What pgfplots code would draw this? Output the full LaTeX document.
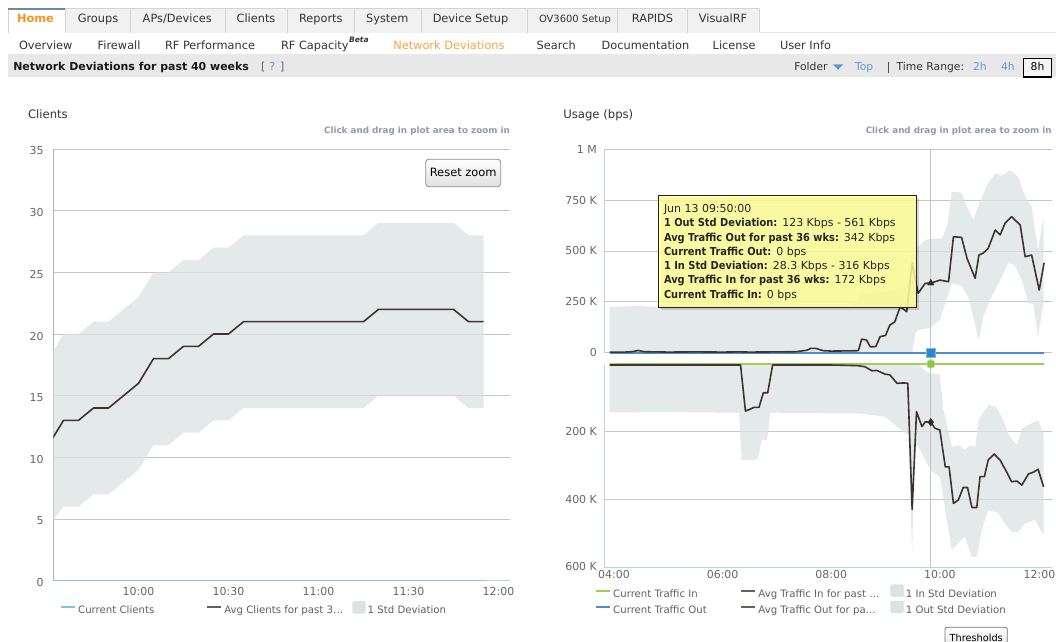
\documentclass[border=0pt]{standalone}
\usepackage{fontspec}
\setmainfont{DejaVu Sans}
\newfontfamily\condf[FakeStretch=0.9]{DejaVu Sans}
\usepackage{pgfplots}
\pgfplotsset{compat=1.18}
\usepgfplotslibrary{fillbetween}
\usepackage{pgfplotstable}

\definecolor{tabtext}{HTML}{333333}
\definecolor{homeor}{HTML}{F7941D}
\definecolor{navor}{HTML}{F5A445}
\definecolor{linkblue}{HTML}{5B9BD5}
\definecolor{barbg}{HTML}{E8E8E8}
\definecolor{tabbg}{HTML}{F1F1F1}
\definecolor{tabline}{HTML}{D4D4D4}
\definecolor{hometop}{HTML}{6E88AD}
\definecolor{bandc}{HTML}{DBE2E2}
\definecolor{gridc}{HTML}{C6C6C6}
\definecolor{tickc}{HTML}{666666}
\definecolor{legc}{HTML}{606060}
\definecolor{titlec}{HTML}{333333}
\definecolor{zoomc}{HTML}{8D9AAD}
\definecolor{avgc}{HTML}{3D3430}
\definecolor{avgleg}{HTML}{6A5E58}
\definecolor{curclient}{HTML}{7FC6EC}
\definecolor{curout}{HTML}{4A8FCB}
\definecolor{curin}{HTML}{A3CE55}
\definecolor{sqc}{HTML}{2C87CC}
\definecolor{circc}{HTML}{8DC63F}
\definecolor{axisc}{HTML}{C0D0E0}
\definecolor{leftaxc}{HTML}{B4B4B4}
\definecolor{crossc}{HTML}{C4C4C4}
\definecolor{tipfill}{HTML}{FFFF99}
\definecolor{sepc}{HTML}{5A4A4A}

\pgfplotstableread{
t avg up lo
30 11 18 4.4
35 13 20 6
40 13 20 6
45 14 21 7
50 14 21 7
55 15 22 8
60 16 23 9
65 18 25 11
70 18 25 11
75 19 26 12
80 19 26 12
85 20 27 13
90 20 27 13
95 21 28 14
100 21 28 14
105 21 28 14
110 21 28 14
115 21 28 14
120 21 28 14
125 21 28 14
130 21 28 14
135 21 28 14
140 22 29 15
145 22 29 15
150 22 29 15
155 22 29 15
160 22 29 15
165 22 29 15
170 21 28 14
175 21 28 14
}\clientsdata

\pgfplotstableread{
x y
3.917 3
4.2 3
4.33 5
4.45 11
4.55 5
5.0 3
5.5 4
6.0 3
6.3 4
6.5 3
7.0 4
7.35 5
7.55 12
7.62 21
7.72 21
7.85 10
8.0 8
8.3 9
8.5 10
8.56 67
8.65 62
8.72 29
8.82 30
8.9 79
9.0 85
9.08 136
9.17 152
9.27 226
9.39 202
9.49 440
9.6 292
9.73 341
9.8333 342
10.0 357
10.16 349
10.25 570
10.4 567
10.5 464
10.65 366
10.72 480
10.8 490
10.89 513
11.02 603
11.11 579
11.2 636
11.32 669
11.48 628
11.57 472
11.69 480
11.83 308
11.92 442
}\avgout

\pgfplotstableread{
x y
3.917 225
4.3 228
4.45 232
4.6 226
5.0 225
6.0 225
7.0 225
8.0 224
8.35 226
8.45 250
8.56 292
8.8 295
9.0 300
9.2 310
9.39 330
9.49 520
9.6 521
9.73 554
9.8333 561
10.05 562
10.15 650
10.22 792
10.4 787
10.5 718
10.62 652
10.72 734
10.89 833
11.02 882
11.14 870
11.29 898
11.44 865
11.57 767
11.69 718
11.81 505
11.91 669
}\outup

\pgfplotstableread{
x y
3.917 0
9.49 0
9.55 95
9.6 112
9.8333 123
10.0 161
10.22 341
10.4 328
10.52 275
10.72 62
10.8 177
10.95 274
11.11 357
11.26 440
11.38 430
11.51 357
11.63 243
11.72 240
11.81 79
11.91 244
}\outlo

\pgfplotstableread{
x y
3.917 3
5.0 3
6.0 3
6.33 3
6.42 139
6.5 134
6.58 128
6.67 128
6.75 85
6.83 85
6.92 3
8.0 3
8.3 4
8.49 5
8.62 8
8.75 20
8.84 19
8.99 30
9.08 32
9.21 57
9.33 56
9.41 57
9.49 430
9.57 141
9.67 185
9.73 171
9.8333 172
9.91 190
10.0 195
10.1 304
10.17 304
10.25 412
10.34 402
10.43 365
10.51 365
10.59 424
10.68 424
10.74 333
10.82 333
10.89 284
11.0 266
11.11 284
11.23 319
11.32 348
11.42 346
11.51 358
11.63 325
11.72 320
11.81 311
11.91 363
}\avgin

\pgfplotstableread{
x y
3.917 143
5.0 142
6.3 144
6.35 284
6.55 284
6.65 281
6.72 225
6.82 225
6.88 145
7.0 144
8.0 145
8.5 146
8.62 148
8.99 156
9.21 185
9.33 200
9.42 210
9.49 570
9.53 240
9.6 240
9.67 264
9.8333 316
10.0 333
10.1 432
10.22 550
10.34 530
10.46 511
10.59 570
10.68 570
10.77 491
10.89 432
11.07 440
11.2 471
11.32 496
11.44 496
11.57 471
11.75 461
11.91 506
}\inup

\pgfplotstableread{
x y
3.917 0
9.6 0
9.67 10
9.73 20
9.8333 28
10.0 30
10.06 130
10.22 245
10.34 240
10.46 254
10.56 240
10.65 245
10.71 166
10.89 121
11.02 125
11.14 156
11.29 215
11.42 240
11.51 190
11.63 180
11.81 166
11.91 205
}\inlo

\pgfplotsset{
  basechart/.style={
    scale only axis,
    axis line style={-},
    major tick length=0pt,
    ymajorgrids,
    major grid style={draw=gridc, line width=1bp},
    tick label style={font=\fontsize{11}{13}\selectfont, text=tickc},
    legend cell align=left,
  },
}

\newcommand\hf{\fontsize{11.4}{13}\selectfont}

\begin{document}
\begin{tikzpicture}[x=1bp,y=1bp,
  t/.style={inner sep=0pt, outer sep=0pt, anchor=base west},
  tc/.style={inner sep=0pt, outer sep=0pt, anchor=base}]

% ---------- tabs ----------
\fill[tabbg] (65,-8.3) rectangle (759.3,-32.7);
\draw[tabline] (65,-8.3) -- (759.3,-8.3);
\foreach \xx in {65,130,225,287.3,354.3,420.7,527,617.3,686.7,759.3}
  \draw[tabline] (\xx,-8.3) -- (\xx,-32.7);
\draw[tabline!60] (759.3,-32.2) -- (1056,-32.2);
\draw[tabline] (8.3,-8.3) -- (8.3,-32.7);
\draw[hometop, line width=2bp] (8.3,-9.3) -- (65,-9.3);
\node[tc, text=homeor, font=\hf\bfseries] at (35.5,-23) {Home};
\foreach \xx/\lab in {98/Groups,177.2/APs\slash Devices,256/Clients,320.8/Reports,387.3/System,470.5/Device Setup,652.5/RAPIDS,723/VisualRF}
  \node[tc, text=tabtext, font=\hf] at (\xx,-23) {\lab};
\node[tc, text=tabtext, font=\fontsize{10}{12}\selectfont] at (575,-23) {OV3600 Setup};

% ---------- second row ----------
\foreach \xx/\lab in {19/Overview,97.7/Firewall,165/RF Performance,281/RF Capacity,536.7/Search,601.7/Documentation,712.7/License,780/User Info}
  \node[t, text=tabtext, font=\hf] at (\xx,-50) {\lab};
\node[t, text=tabtext, font=\fontsize{7.6}{8}\selectfont\bfseries\itshape] at (349,-42.3) {Beta};
\node[t, text=navor, font=\hf] at (393.3,-50) {Network Deviations};

% ---------- title bar ----------
\fill[barbg] (8.3,-54.3) rectangle (1056,-76.7);
\node[t, text=black!90, font=\fontsize{11}{13}\selectfont\bfseries] at (13.3,-71) {Network Deviations for past 40 weeks};
\node[t, text=tickc, font=\fontsize{11}{13}\selectfont] at (261,-71) {[};
\node[t, text=linkblue, font=\fontsize{11}{13}\selectfont] at (269.3,-71) {?};
\node[t, text=tickc, font=\fontsize{11}{13}\selectfont] at (280,-71) {]};
\node[t, text=tabtext, font=\fontsize{10.8}{13}\selectfont] at (794.3,-71) {Folder};
\fill[linkblue] (833,-64.5) -- (843,-64.5) -- (838,-69.8) -- cycle;
\node[t, text=linkblue, font=\fontsize{10.8}{13}\selectfont] at (855,-71) {Top};
\draw[sepc, line width=1.2bp] (888.3,-61.7) -- (888.3,-73.3);
\node[t, text=tabtext, font=\fontsize{10.8}{13}\selectfont] at (896.7,-71) {Time Range:};
\node[t, text=linkblue, font=\fontsize{10.8}{13}\selectfont] at (973,-71) {2h};
\node[t, text=linkblue, font=\fontsize{10.8}{13}\selectfont] at (1001,-71) {4h};
\draw[black, line width=1.5bp, fill=white!96!black] (1023.5,-58.5) rectangle (1051.5,-77);
\node[tc, text=black, font=\fontsize{10.8}{13}\selectfont] at (1037.5,-71) {8h};

% ---------- chart titles ----------
\node[t, text=titlec, font=\fontsize{11.7}{14}\selectfont] at (28,-118.5) {Clients};
\node[t, text=titlec, font=\fontsize{11.7}{14}\selectfont] at (563.3,-118.5) {Usage (bps)};
\node[inner sep=0pt, anchor=base east, text=zoomc, font=\fontsize{8.8}{10}\selectfont\bfseries] at (510,-133.5) {Click and drag in plot area to zoom in};
\node[inner sep=0pt, anchor=base east, text=zoomc, font=\fontsize{8.8}{10}\selectfont\bfseries] at (1051.7,-133.5) {Click and drag in plot area to zoom in};

% ---------- left chart ----------
\begin{axis}[basechart,
  at={(53.3bp,-580.7bp)}, anchor=south west,
  width=456.7bp, height=431.7bp,
  xmin=31.6, xmax=183.83, ymin=0, ymax=35,
  axis x line*=bottom, axis y line*=left,
  x axis line style={draw=axisc, line width=1bp},
  y axis line style={draw=leftaxc, line width=1bp},
  xtick={60,90,120,150,180},
  xticklabels={10:00,10:30,11:00,11:30,12:00},
  ytick={0,5,10,15,20,25,30,35},
  yticklabels={0,5,10,15,20,25,30,35},
  xticklabel style={yshift=-3.3bp},
  yticklabel style={xshift=-6.3bp, yshift=-2bp},
  legend style={at={(axis description cs:0.01467,-0.06625)}, anchor=west,
    draw=none, fill=none, inner sep=0pt,
    font=\fontsize{10.2}{12}\selectfont, text=legc,
    nodes={inner sep=2bp},
    /tikz/column 2/.style={column sep=50bp},
    /tikz/column 4/.style={column sep=7bp}},
  legend columns=3,
]
\addplot[name path=cup, draw=none, forget plot] table[x=t,y=up]{\clientsdata};
\addplot[name path=clo, draw=none, forget plot] table[x=t,y=lo]{\clientsdata};
\addplot[fill=bandc, fill opacity=0.75, draw=none, forget plot] fill between[of=cup and clo];
\addplot[curclient, line width=2bp, forget plot] coordinates {(30,0) (175,0)};
\addplot[avgc, line width=1.6bp, line join=round, forget plot] table[x=t,y=avg]{\clientsdata};
\addlegendimage{legend image code/.code={\draw[curclient, line width=2bp] (0bp,3.5bp) -- (14bp,3.5bp);}}
\addlegendentry{Current Clients}
\addlegendimage{legend image code/.code={\draw[avgleg, line width=2bp] (0bp,3.5bp) -- (14bp,3.5bp);}}
\addlegendentry{Avg Clients for past 3…}
\addlegendimage{legend image code/.code={\fill[bandc, rounded corners=2bp] (0bp,-2.5bp) rectangle (13bp,9.5bp);}}
\addlegendentry{1 Std Deviation}
\end{axis}

% ---------- right chart, top (out) ----------
\begin{axis}[basechart,
  at={(604.3bp,-352.7bp)}, anchor=south west,
  width=447.4bp, height=203.4bp,
  xmin=3.821, xmax=12.06, ymin=0, ymax=1000,
  axis x line=none, axis y line*=left,
  y axis line style={draw=axisc, line width=1bp},
  xtick=\empty,
  ytick={0,250,500,750,1000},
  yticklabels={0,250 K,500 K,750 K,1 M},
  yticklabel style={xshift=-3.9bp},
  clip=false,
  legend style={at={(axis description cs:-0.02079,-1.2198)}, anchor=west,
    draw=none, fill=none, inner sep=0pt,
    font=\fontsize{10.2}{12}\selectfont, text=legc,
    nodes={inner sep=2bp}, row sep=0bp,
    /tikz/column 2/.style={column sep=31.6bp},
    /tikz/column 4/.style={column sep=9bp}},
  legend columns=3,
]
\addplot[name path=oup, draw=none, forget plot] table[x=x,y=y]{\outup};
\addplot[name path=olo, draw=none, forget plot] table[x=x,y=y]{\outlo};
\addplot[fill=bandc, fill opacity=0.75, draw=none, forget plot] fill between[of=oup and olo];
\draw[crossc, line width=1bp] (axis cs:9.8333,1000) -- (axis cs:9.8333,-56);
\addplot[curout, line width=2bp, forget plot] coordinates {(3.917,0) (11.917,0)};
\addplot[avgc, line width=1.6bp, line join=round, forget plot] table[x=x,y=y]{\avgout};
\addplot[only marks, mark=square*, mark size=4.3bp, mark options={fill=sqc, draw=sqc!60!white, line width=0.8bp}, forget plot] coordinates {(9.8333,0)};
\addplot[only marks, mark=triangle*, mark size=3.8bp, mark options={fill=avgc!80!black, draw=avgc!80!black}, forget plot] coordinates {(9.8333,342)};
\addlegendimage{legend image code/.code={\draw[curin, line width=2bp] (0bp,3.5bp) -- (14bp,3.5bp);}}
\addlegendentry{Current Traffic In}
\addlegendimage{legend image code/.code={\draw[avgleg, line width=2bp] (0bp,3.5bp) -- (14bp,3.5bp);}}
\addlegendentry{Avg Traffic In for past …}
\addlegendimage{legend image code/.code={\fill[bandc, rounded corners=2bp] (0bp,-2.5bp) rectangle (13bp,9.5bp);}}
\addlegendentry{1 In Std Deviation}
\addlegendimage{legend image code/.code={\draw[curout, line width=2bp] (0bp,3.5bp) -- (14bp,3.5bp);}}
\addlegendentry{Current Traffic Out}
\addlegendimage{legend image code/.code={\draw[avgleg, line width=2bp] (0bp,3.5bp) -- (14bp,3.5bp);}}
\addlegendentry{Avg Traffic Out for pa…}
\addlegendimage{legend image code/.code={\fill[bandc, rounded corners=2bp] (0bp,-2.5bp) rectangle (13bp,9.5bp);}}
\addlegendentry{1 Out Std Deviation}
\end{axis}

% ---------- right chart, bottom (in) ----------
\begin{axis}[basechart,
  at={(604.3bp,-567bp)}, anchor=south west,
  width=447.4bp, height=203bp,
  xmin=3.821, xmax=12.06, ymin=0, ymax=600,
  y dir=reverse,
  axis x line*=bottom, axis y line*=left,
  x axis line style={draw=axisc, line width=1bp},
  y axis line style={draw=axisc, line width=1bp},
  xtick={4,6,8,10,12},
  xticklabels={04:00,06:00,08:00,10:00,\hspace*{-18bp}12:00},
  ytick={200,400,600},
  yticklabels={200 K,400 K,600 K},
  yticklabel style={xshift=-3.9bp},
  clip=false,
]
\addplot[name path=iup, draw=none, forget plot] table[x=x,y=y]{\inup};
\addplot[name path=ilo, draw=none, forget plot] table[x=x,y=y]{\inlo};
\addplot[fill=bandc, fill opacity=0.75, draw=none, forget plot] fill between[of=iup and ilo];
\draw[crossc, line width=1bp] (axis cs:9.8333,0) -- (axis cs:9.8333,600);
\addplot[curin, line width=2bp, forget plot] coordinates {(3.917,0) (11.917,0)};
\addplot[avgc, line width=1.6bp, line join=round, forget plot] table[x=x,y=y]{\avgin};
\addplot[only marks, mark=*, mark size=4.3bp, mark options={fill=circc, draw=circc!60!white, line width=0.8bp}, forget plot] coordinates {(9.8333,0)};
\addplot[only marks, mark=diamond*, mark size=3.8bp, mark options={fill=avgc!80!black, draw=avgc!80!black}, forget plot] coordinates {(9.8333,172)};
\end{axis}

% ---------- tooltip ----------
\fill[black, opacity=0.15] (660.8,-198.5) rectangle (919.2,-309.8);
\draw[draw=black!85, fill=tipfill, fill opacity=0.85, line width=1bp] (658.3,-196) rectangle (916.7,-307.3);
\begin{scope}[every node/.style={inner sep=0pt, outer sep=0pt, anchor=base west, text=black!85, font=\fontsize{11}{13}\selectfont}]
\node at (664,-212.5) {Jun 13 09:50:00};
\node at (664,-226.8) {{\condf\bfseries 1 Out Std Deviation:}\hspace{5bp}123 Kbps - 561 Kbps};
\node at (664,-241.1) {{\condf\bfseries Avg Traffic Out for past 36 wks:}\hspace{5bp}342 Kbps};
\node at (664,-255.4) {{\condf\bfseries Current Traffic Out:}\hspace{5bp}0 bps};
\node at (664,-269.7) {{\condf\bfseries 1 In Std Deviation:}\hspace{5bp}28.3 Kbps - 316 Kbps};
\node at (664,-284.0) {{\condf\bfseries Avg Traffic In for past 36 wks:}\hspace{5bp}172 Kbps};
\node at (664,-298.3) {{\condf\bfseries Current Traffic In:}\hspace{5bp}0 bps};
\end{scope}

% ---------- buttons ----------
\shadedraw[top color=white, bottom color=black!12, draw=black!45, rounded corners=3bp, line width=0.8bp] (425.7,-159.3) rectangle (500.7,-186.7);
\node[tc, text=black, font=\fontsize{11.5}{13}\selectfont] at (463.2,-176.8) {Reset zoom};
\shadedraw[top color=white, bottom color=black!12, draw=black!55, rounded corners=2bp, line width=0.8bp] (945,-627.3) rectangle (1007.3,-650);
\node[tc, text=black, font=\fontsize{9.8}{12}\selectfont] at (976.2,-641) {Thresholds};

\pgfresetboundingbox
\path[use as bounding box] (0,0) rectangle (1056,-642);
\end{tikzpicture}
\end{document}
